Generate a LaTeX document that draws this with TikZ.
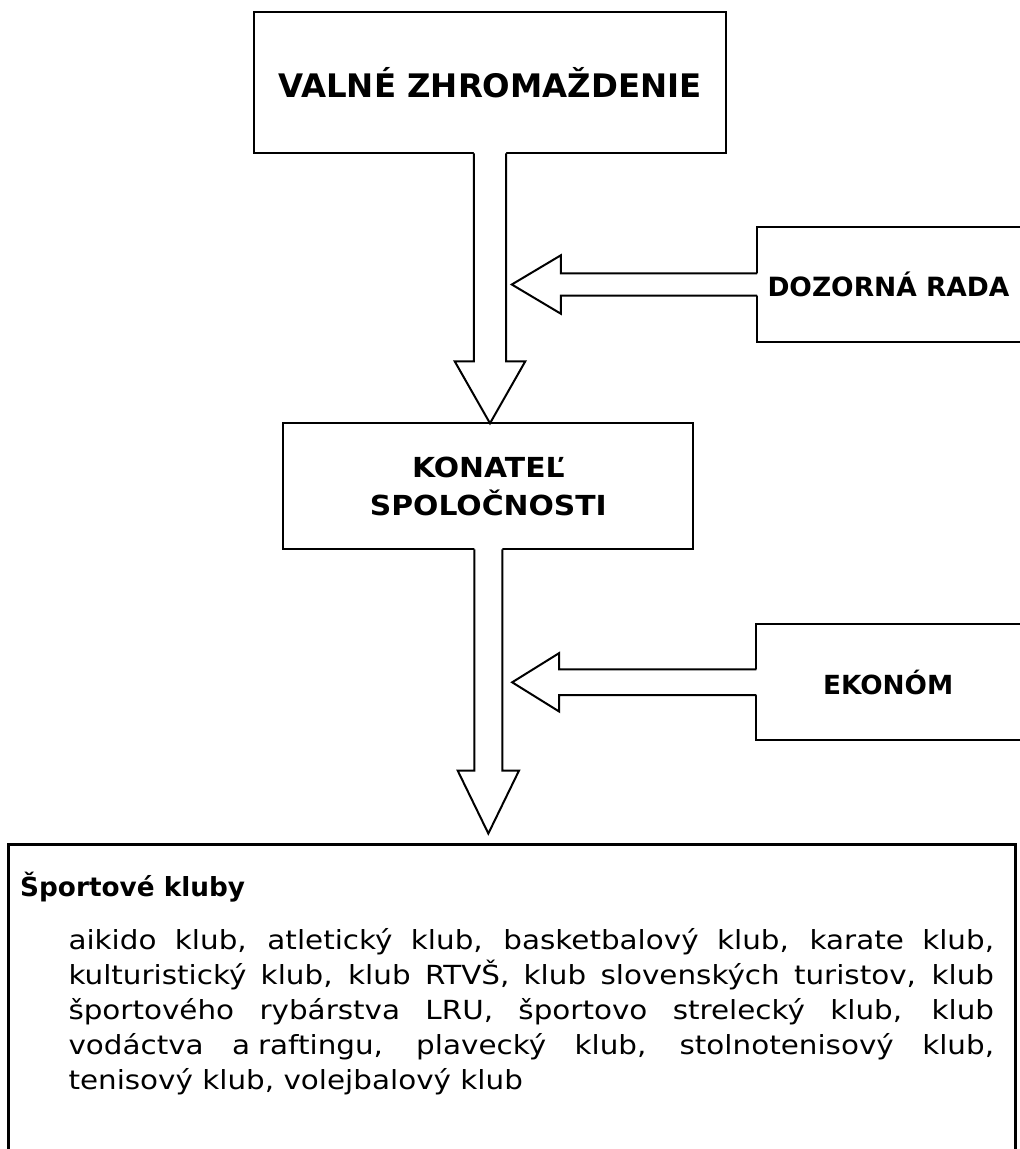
\documentclass[tikz,border=0pt]{standalone}
\usepackage{fontspec}
\setmainfont{DejaVu Sans}
\newfontfamily\bodyfont[FakeStretch=1.118]{DejaVu Sans}
\newfontfamily\widebold[FakeStretch=1.08]{DejaVu Sans}
\usetikzlibrary{calc}

\tikzset{
  thinline/.style={draw=black, line width=2pt, line join=miter},
  thickline/.style={draw=black, line width=3pt, line join=miter},
  boxnode/.style={rectangle, inner sep=0pt, outer sep=0pt, align=center},
}

% block arrow pointing down: #1 base, #2 tip, #3 half shaft, #4 half head, #5 head length
\newcommand{\blockdown}[5]{%
  \fill[white] let \p1=(#1), \p2=(#2) in
    (\x1-#3pt,\y1+1.5pt) -- (\x1-#3pt,\y2+#5pt) -- (\x1-#4pt,\y2+#5pt) -- (\x1,\y2)
    -- (\x1+#4pt,\y2+#5pt) -- (\x1+#3pt,\y2+#5pt) -- (\x1+#3pt,\y1+1.5pt) -- cycle;
  \draw[thinline] let \p1=(#1), \p2=(#2) in
    (\x1-#3pt,\y1) -- (\x1-#3pt,\y2+#5pt) -- (\x1-#4pt,\y2+#5pt) -- (\x1,\y2)
    -- (\x1+#4pt,\y2+#5pt) -- (\x1+#3pt,\y2+#5pt) -- (\x1+#3pt,\y1);
}
% block arrow pointing left: #1 base, #2 tip, #3 half shaft, #4 half head, #5 head length
\newcommand{\blockleft}[5]{%
  \fill[white] let \p1=(#1), \p2=(#2) in
    (\x1+1.5pt,\y1+#3pt) -- (\x2+#5pt,\y1+#3pt) -- (\x2+#5pt,\y1+#4pt) -- (\x2,\y1)
    -- (\x2+#5pt,\y1-#4pt) -- (\x2+#5pt,\y1-#3pt) -- (\x1+1.5pt,\y1-#3pt) -- cycle;
  \draw[thinline] let \p1=(#1), \p2=(#2) in
    (\x1,\y1+#3pt) -- (\x2+#5pt,\y1+#3pt) -- (\x2+#5pt,\y1+#4pt) -- (\x2,\y1)
    -- (\x2+#5pt,\y1-#4pt) -- (\x2+#5pt,\y1-#3pt) -- (\x1,\y1-#3pt);
}

\begin{document}
\begin{tikzpicture}[x=1pt,y=-1pt]
\useasboundingbox (0,0) rectangle (1020,1149);
\fill[white] (0,0) rectangle (1020,1149);

% boxes
\node[boxnode, thinline, minimum width=472pt, minimum height=141.5pt,
      font=\fontsize{32.4}{40}\selectfont\bfseries] (valne) at (490,82.5)
  {VALNÉ ZHROMAŽDENIE};

\node[boxnode, thinline, minimum width=410pt, minimum height=126pt,
      font=\widebold\fontsize{27.6}{38}\selectfont\bfseries] (konatel) at (488.35,486.3)
  {KONATEĽ\\SPOLOČNOSTI};

\node[boxnode, minimum width=263pt, minimum height=115.6pt,
      font=\fontsize{26.5}{32}\selectfont\bfseries] (dozor) at (888.5,284.5)
  {DOZORNÁ RADA};
\draw[thinline] ([xshift=10pt]dozor.north east) -- (dozor.north west) -- (dozor.south west) -- ([xshift=10pt]dozor.south east);

\node[boxnode, minimum width=263.7pt, minimum height=116pt,
      font=\fontsize{26.3}{32}\selectfont\bfseries] (ekonom) at (888.15,682.3)
  {EKONÓM};
\draw[thinline] ([xshift=10pt]ekonom.north east) -- (ekonom.north west) -- (ekonom.south west) -- ([xshift=10pt]ekonom.south east);

\node[boxnode, minimum width=1007pt, minimum height=316pt] (kluby) at (512,1002) {};
\draw[thickline] (kluby.south west) -- (kluby.north west) -- (kluby.north east) -- (kluby.south east);

\node[inner sep=0pt, anchor=base west, font=\fontsize{26.3}{35}\selectfont\bfseries] (klubytitle) at (20,896)
  {Športové kluby};
\node[inner sep=0pt, anchor=base west] (klubybody) at (68.3,949)
  {\parbox[t]{925.5pt}{\bodyfont\fontsize{26.3}{35}\selectfont
  aikido klub, atletický klub, basketbalový klub, karate klub,\linebreak
  kulturistický klub, klub RTVŠ, klub slovenských turistov, klub\linebreak
  športového rybárstva LRU, športovo strelecký klub, klub\linebreak
  vodáctva a\nobreak\hspace{0.3em}raftingu, plavecký klub, stolnotenisový klub,\linebreak
  tenisový klub, volejbalový klub}};

% arrow tips
\coordinate (tip1) at (valne.south |- konatel.north);
\coordinate (tip2) at ($(konatel.south |- kluby.north)+(0,-10.5)$);
\coordinate (tip3) at ($(dozor.west -| valne.south)+(21.8,0)$);
\coordinate (tip4) at ($(ekonom.west -| konatel.south)+(23.8,0)$);

% block arrows
\blockdown{valne.south}{tip1}{16.1}{35.3}{62}
\blockdown{konatel.south}{tip2}{13.9}{30.7}{63}
\blockleft{dozor.west}{tip3}{11.2}{29.2}{49}
\blockleft{ekonom.west}{tip4}{12.85}{29.2}{47}
\end{tikzpicture}
\end{document}
